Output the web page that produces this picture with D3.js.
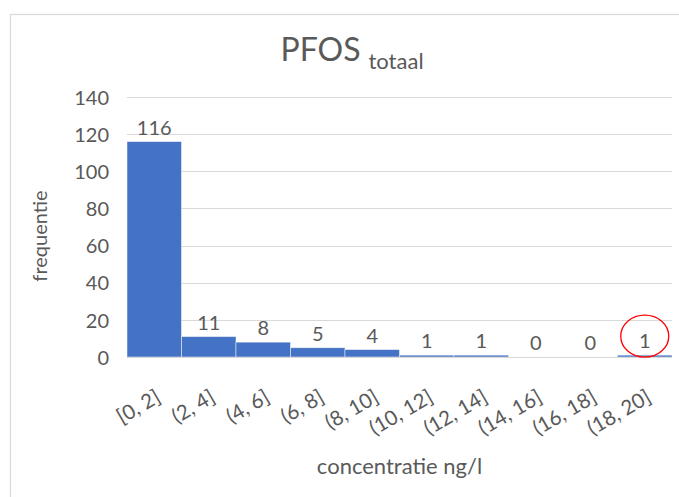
<!DOCTYPE html>
<html>
<head>
<meta charset="utf-8">
<script src="https://cdn.jsdelivr.net/npm/d3@7"></script>
<style>
  html, body { margin: 0; padding: 0; background: #fff; }
  svg { display: block; }
  text { font-family: Lato, "Open Sans", sans-serif; fill: #595959; }
</style>
</head>
<body>
<svg id="chart" width="679" height="497"></svg>
<script>
// ---- data ----
const categories = ["[0, 2]", "(2, 4]", "(4, 6]", "(6, 8]", "(8, 10]", "(10, 12]", "(12, 14]", "(14, 16]", "(16, 18]", "(18, 20]"];
const frequencies = [116, 11, 8, 5, 4, 1, 1, 0, 0, 1];
const yTicks = [0, 20, 40, 60, 80, 100, 120, 140];
const highlighted = ["(18, 20]"];
const titleMain = "PFOS";
const titleSub = "totaal";
const xTitle = "concentratie ng/l";
const yTitle = "frequentie";

// ---- layout ----
const W = 679, H = 497;
const plot = { left: 127, right: 672, top: 97, bottom: 357 };
const svg = d3.select("#chart");

// chart frame
svg.append("rect")
  .attr("x", 10.5).attr("y", 14.5)
  .attr("width", W + 20).attr("height", H + 20)
  .attr("fill", "none").attr("stroke", "#d9d9d9").attr("stroke-width", 1.2);

const x = d3.scaleBand().domain(categories).range([plot.left, plot.right]).padding(0);
const y = d3.scaleLinear().domain([0, 140]).range([plot.bottom, plot.top]);

// gridlines
svg.append("g").selectAll("line").data(yTicks.filter(t => t > 0)).join("line")
  .attr("x1", plot.left).attr("x2", plot.right)
  .attr("y1", d => Math.round(y(d)) + 0.5).attr("y2", d => Math.round(y(d)) + 0.5)
  .attr("stroke", "#d9d9d9").attr("stroke-width", 1);

// y axis labels
const yAxis = d3.axisLeft(y).tickValues(yTicks).tickSize(0).tickPadding(0);
const gy = svg.append("g").attr("transform", `translate(${plot.left - 18},0)`).call(yAxis);
gy.select(".domain").remove();
gy.selectAll("text").attr("font-size", 20).attr("fill", "#595959")
  .style("font-family", "Lato, 'Open Sans', sans-serif").attr("dy", "0.36em");

// bars
svg.append("g").selectAll("rect").data(categories.map((c, i) => ({ c, v: frequencies[i] }))).join("rect")
  .attr("x", d => x(d.c))
  .attr("y", d => y(d.v))
  .attr("width", x.bandwidth())
  .attr("height", d => y(0) - y(d.v))
  .attr("fill", "#4472c4")
  .attr("stroke", "#ffffff").attr("stroke-opacity", 0.6).attr("stroke-width", 0.8);

// x axis line
svg.append("line")
  .attr("x1", plot.left).attr("x2", plot.right)
  .attr("y1", plot.bottom + 0.5).attr("y2", plot.bottom + 0.5)
  .attr("stroke", "#d9d9d9").attr("stroke-width", 1);

// data labels
svg.append("g").selectAll("text").data(categories.map((c, i) => ({ c, v: frequencies[i] }))).join("text")
  .attr("x", d => x(d.c) + x.bandwidth() / 2)
  .attr("y", d => y(d.v) - 7)
  .attr("text-anchor", "middle")
  .attr("font-size", 20)
  .text(d => d.v);

// highlight circle
svg.append("g").selectAll("ellipse").data(highlighted).join("ellipse")
  .attr("cx", d => x(d) + x.bandwidth() / 2)
  .attr("cy", d => y(frequencies[categories.indexOf(d)]) - 19)
  .attr("rx", 24).attr("ry", 21)
  .attr("fill", "none").attr("stroke", "#ff0000").attr("stroke-width", 1.3);

// x axis category labels (rotated)
svg.append("g").selectAll("text").data(categories).join("text")
  .attr("transform", d => `translate(${x(d) + x.bandwidth() / 2 + 4},${plot.bottom + 38}) rotate(-30)`)
  .attr("text-anchor", "end")
  .attr("font-size", 20.5)
  .attr("dy", "0.35em")
  .text(d => d);

// title
const title = svg.append("text")
  .attr("x", 352).attr("y", 61)
  .attr("text-anchor", "middle")
  .attr("font-size", 32);
title.append("tspan").text(titleMain);
title.append("tspan").attr("font-size", 22).attr("dx", 8).attr("dy", 8).text(titleSub);

// axis titles
svg.append("text")
  .attr("x", (plot.left + plot.right) / 2).attr("y", 474)
  .attr("text-anchor", "middle").attr("font-size", 22)
  .text(xTitle);

svg.append("text")
  .attr("transform", `translate(47,236) rotate(-90)`)
  .attr("text-anchor", "middle").attr("font-size", 20)
  .text(yTitle);
</script>
</body>
</html>
